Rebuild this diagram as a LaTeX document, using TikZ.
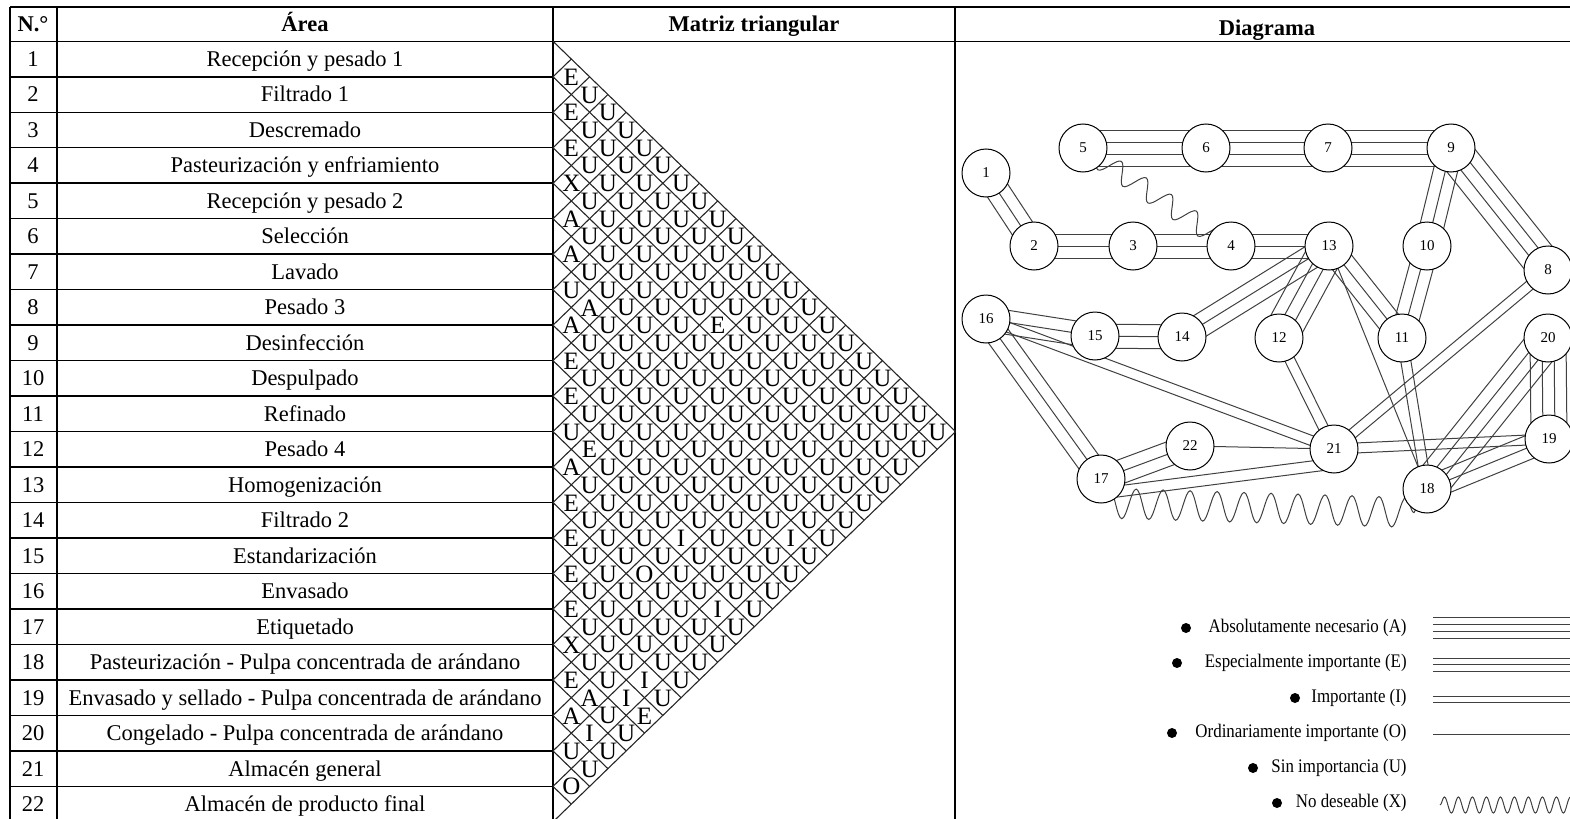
\documentclass[tikz,border=0pt]{standalone}
\usepackage{fontspec}
\setmainfont{Liberation Serif}
\newfontfamily\legfont[FakeStretch=0.88]{Liberation Serif}
\usetikzlibrary{calc,backgrounds,decorations.pathmorphing}

\newcommand\getrel[2]{\ifcsname rel#1-#2\endcsname\csname rel#1-#2\endcsname\else U\fi}
\newcommand\linkrel[3]{\foreach \o in {#3}
  \draw[rel] ($(n#1)!\o pt!90:(n#2)$) -- ($(n#2)!\o pt!-90:(n#1)$);}

\begin{document}
\begin{tikzpicture}[x=0.5pt,y=-0.5pt,
  font=\fontsize{11.25}{13.5}\selectfont,
  tabline/.style={line width=0.75pt},
  trigrid/.style={line width=0.55pt,black!85},
  cell/.style={inner sep=0pt,font=\fontsize{12.5}{14}\selectfont},
  txt/.style={inner sep=0pt,text height=7.4pt,text depth=0pt},
  hdr/.style={txt,font=\fontsize{11.25}{13.5}\selectfont\bfseries},
  stn/.style={circle,draw,fill=white,line width=0.5pt,minimum size=24pt,inner sep=0pt,font=\fontsize{7.5}{9}\selectfont},
  rel/.style={line width=0.5pt,black!75},
  nogo/.style={rel,decorate,decoration={snake,amplitude=5pt,segment length=15pt}},
  legtxt/.style={anchor=east,inner sep=0pt,font=\legfont\fontsize{9.6}{11}\selectfont},
  legdot/.style={circle,fill,inner sep=0pt,minimum size=5pt}]
\useasboundingbox (0,0) rectangle (1570,819);

% table frame
\draw[tabline] (10,7) -- (1580,7) (10,41.3) -- (1580,41.3);
\foreach \x in {10,57,553,955} \draw[tabline] (\x,7) -- (\x,830);
\foreach \n in {1,...,21} \draw[tabline] (10,{41.3+35.48*\n}) -- (553,{41.3+35.48*\n});
\node[hdr] (hnum) at (33,24) {N.°};
\node[hdr] (harea) at (305,24) {Área};
\node[hdr] (hmat) at (754,24) {Matriz triangular};
\node[hdr] (hdia) at (1267,28) {Diagrama};

\foreach \name [count=\r] in {Recepción y pesado 1,Filtrado 1,Descremado,Pasteurización y enfriamiento,Recepción y pesado 2,Selección,Lavado,Pesado 3,Desinfección,Despulpado,Refinado,Pesado 4,Homogenización,Filtrado 2,Estandarización,Envasado,Etiquetado,Pasteurización - Pulpa concentrada de arándano,Envasado y sellado - Pulpa concentrada de arándano,Congelado - Pulpa concentrada de arándano,Almacén general,Almacén de producto final}
  {\node[txt] (num\r) at (33,{23.56+35.48*\r}) {\r};
   \node[txt] (area\r) at (305,{23.56+35.48*\r}) {\name};}

% triangular matrix
\foreach \n in {0,...,22}
  {\draw[trigrid] (553,{41.3+35.48*\n}) -- ++({(22-\n)*18.3},{(22-\n)*17.74});
   \draw[trigrid] (553,{41.3+35.48*\n}) -- ++({\n*18.3},{-\n*17.74});}
\foreach \i/\j/\r in {1/2/E,2/3/E,3/4/E,4/5/X,5/6/A,6/7/A,8/9/A,9/10/E,10/11/E,12/13/A,13/14/E,14/15/E,15/16/E,16/17/E,17/18/X,18/19/E,19/20/A,21/22/O,7/9/A,4/13/E,11/13/E,11/18/I,13/18/O,12/21/I,8/21/I,16/21/I,17/21/I,17/22/E,18/20/A,19/21/I}
  {\expandafter\xdef\csname rel\i-\j\endcsname{\r}}
\foreach \i in {1,...,21}
  {\pgfmathtruncatemacro\jst{\i+1}
   \foreach \j in {\jst,...,22}
     \node[cell] (m\i-\j) at ({553+(\j-\i)*18.3},{24+17.74*(\i+\j)}) {\getrel{\i}{\j}};}

% diagram
\foreach \k/\x/\y in {1/986/173,2/1034/246,3/1133/246,4/1231/246,5/1083/148,6/1206/148,7/1328/148,9/1451/148,8/1548/270,10/1427/246,13/1329/246,11/1402/338,12/1279/338,14/1182/337,15/1095/336,16/986/319,20/1548/338,19/1549/439,21/1334/449,22/1190/446,17/1101/479,18/1427/489}
  \node[stn] (n\k) at (\x,\y) {\k};
\begin{scope}[on background layer]
\foreach \a/\b in {5/6,6/7,7/9,8/9,12/13,18/20,19/20} {\linkrel{\a}{\b}{-9,-3,3,9}}
\foreach \a/\b in {1/2,2/3,3/4,4/13,9/10,10/11,11/13,13/14,14/15,15/16,16/17,17/22,18/19} {\linkrel{\a}{\b}{-6,0,6}}
\foreach \a/\b in {11/18,12/21,8/21,16/21,19/21} {\linkrel{\a}{\b}{-2.5,2.5}}
\linkrel{17}{21}{-4.5,-10}
\foreach \a/\b in {13/18,21/22} {\linkrel{\a}{\b}{0}}
\draw[nogo] (n5.center) -- (n4.center);
\draw[nogo,decoration={amplitude=7.5pt,segment length=13.5pt,raise=-12pt}] (n17.center) -- (n18.center);
\end{scope}

% legend
\foreach \y/\bx/\txt/\nm in {628/1186/Absolutamente necesario (A)/A,663/1177/Especialmente importante (E)/E,698/1295/Importante (I)/I,733/1172/Ordinariamente importante (O)/O,768/1253/Sin importancia (U)/U,803/1277/No deseable (X)/X}
  {\node[legtxt] (leg\nm) at (1407,\y) {\txt};
   \node[legdot] (dot\nm) at (\bx,\y) {};}
\foreach \y in {617,624,631,638} \draw[rel] (1433,\y) -- (1580,\y);
\foreach \y in {658,664.5,671} \draw[rel] (1433,\y) -- (1580,\y);
\foreach \y in {696,702} \draw[rel] (1433,\y) -- (1580,\y);
\draw[rel] (1433,734) -- (1580,734);
\draw[nogo,decoration={amplitude=4pt,segment length=7pt}] (1440,805) -- (1580,805);
\end{tikzpicture}
\end{document}
